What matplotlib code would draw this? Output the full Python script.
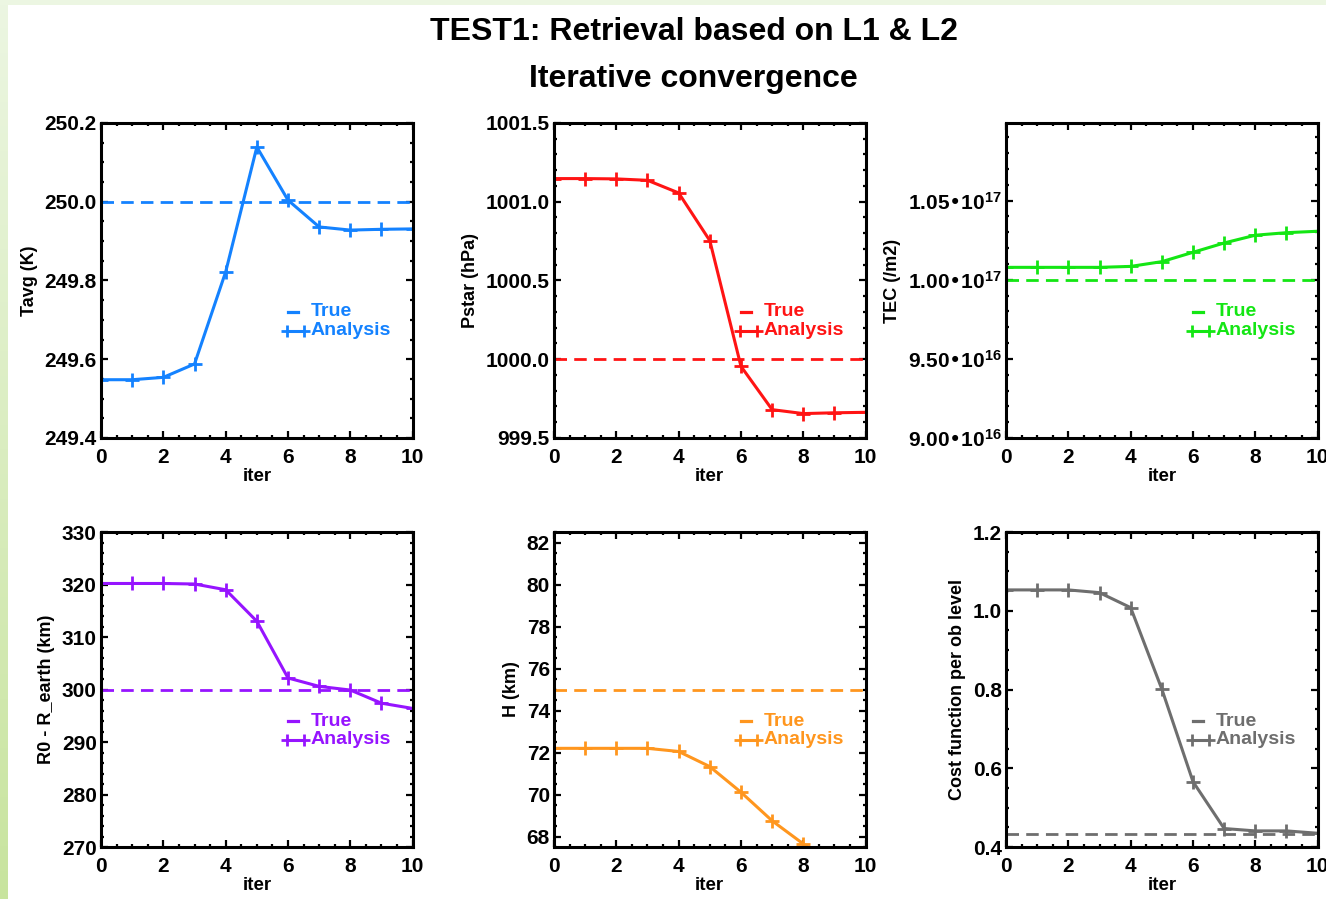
import numpy as np
import matplotlib.pyplot as plt
from matplotlib.ticker import MultipleLocator, AutoMinorLocator, FuncFormatter, FixedLocator

plt.rcParams['font.family'] = ['Liberation Sans', 'DejaVu Sans']
plt.rcParams['font.weight'] = 'bold'
plt.rcParams['axes.labelweight'] = 'bold'
plt.rcParams['mathtext.default'] = 'regular'

# Iteration index
iters = np.arange(11)

# Analysis values per iteration
tavg = [249.548, 249.548, 249.554, 249.588, 249.822, 250.139, 250.004, 249.936, 249.928, 249.930, 249.931]
pstar = [1001.147, 1001.147, 1001.145, 1001.136, 1001.056, 1000.753, 999.955, 999.680, 999.655, 999.660, 999.663]
tec = [1.0078e17, 1.0078e17, 1.0078e17, 1.0078e17, 1.0084e17, 1.0114e17, 1.0173e17, 1.0232e17, 1.0281e17, 1.0297e17, 1.0306e17]
r0 = [320.2, 320.2, 320.2, 320.1, 319.0, 313.0, 302.2, 300.6, 299.9, 297.4, 296.4]
h_km = [72.2, 72.2, 72.2, 72.2, 72.05, 71.33, 70.11, 68.75, 67.65, 66.5, 65.6]
cost = [1.053, 1.053, 1.053, 1.046, 1.008, 0.801, 0.566, 0.447, 0.441, 0.441, 0.435]

# True values
tavg_true = 250.0
pstar_true = 1000.0
tec_true = 1.0e17
r0_true = 300.0
h_true = 75.0
cost_true = 0.434

ylabels = ['Tavg (K)', 'Pstar (hPa)', 'TEC (/m2)', 'R0 - R_earth (km)', 'H (km)', 'Cost function per ob level']
colors = ['#1482ff', '#ff1414', '#14e614', '#9614ff', '#ff961e', '#6e6e6e']


def sci_fmt(v, pos):
    e = int(np.floor(np.log10(v)))
    m = v / 10.0 ** e
    return '%.2f\u202210$^{%d}$' % (m, e)


fig = plt.figure(figsize=(13.26, 8.99), dpi=100)

# Light green frame on the left and top edge
bg = fig.add_axes([0, 0, 1, 1], zorder=-10)
bg.set_xlim(0, 1326)
bg.set_ylim(899, 0)
bg.axis('off')
grad = np.linspace(0, 1, 256)[:, None]
top_c = np.array([236, 246, 226]) / 255.0
bot_c = np.array([200, 228, 158]) / 255.0
strip = top_c[None, None, :] * (1 - grad[:, :, None]) + bot_c[None, None, :] * grad[:, :, None]
bg.imshow(strip, extent=(0, 8, 899, 0), aspect='auto')
bg.add_patch(plt.Rectangle((0, 0), 1326, 5, color=tuple(top_c), lw=0))

fig.text(0.523, 0.964, 'TEST1: Retrieval based on L1 & L2', ha='center', va='center', fontsize=23)
fig.text(0.523, 0.912, 'Iterative convergence', ha='center', va='center', fontsize=23)

lefts = [0.0762, 0.4178, 0.7587]
bottoms = [0.5128, 0.0578]
w, h = 0.2350, 0.3504

series = [tavg, pstar, tec, r0, h_km, cost]
trues = [tavg_true, pstar_true, tec_true, r0_true, h_true, cost_true]
ylims = [(249.4, 250.2), (999.5, 1001.5), (9.0e16, 1.099e17), (270, 330), (67.5, 82.5), (0.4, 1.2)]
majors = [0.2, 0.5, None, 10, 2, 0.2]
minors = [4, 5, 5, 5, 4, 4]
fmts = ['%.1f', '%.1f', None, '%d', '%d', '%.1f']

for i in range(6):
    ax = fig.add_axes([lefts[i % 3], bottoms[i // 3], w, h])
    c = colors[i]

    # true value (dashed) and analysis (line + plus markers)
    ax.axhline(trues[i], color=c, lw=2, dashes=(4.5, 2.6))
    ax.plot(iters, series[i], color=c, lw=2.2, marker='+', ms=10, mew=2)

    ax.set_xlim(0, 10)
    ax.set_ylim(*ylims[i])
    ax.xaxis.set_major_locator(MultipleLocator(2))
    ax.xaxis.set_minor_locator(AutoMinorLocator(4))
    if i == 2:
        ax.yaxis.set_major_locator(FixedLocator([9.0e16, 9.5e16, 1.0e17, 1.05e17]))
        ax.yaxis.set_minor_locator(MultipleLocator(1.0e15))
        ax.yaxis.set_major_formatter(FuncFormatter(sci_fmt))
    else:
        ax.yaxis.set_major_locator(MultipleLocator(majors[i]))
        ax.yaxis.set_minor_locator(AutoMinorLocator(minors[i]))
        ax.yaxis.set_major_formatter(FuncFormatter(lambda v, p, f=fmts[i]: f % v))

    ax.tick_params(which='both', direction='in', top=True, right=True, width=1.6, labelsize=15)
    ax.tick_params(which='major', length=5)
    ax.tick_params(which='minor', length=2.5)
    ax.tick_params(axis='x', pad=7)
    ax.tick_params(axis='y', pad=3)
    for s in ax.spines.values():
        s.set_linewidth(2.2)

    ax.set_xlabel('iter', fontsize=13.5, labelpad=1)
    ax.set_ylabel(ylabels[i], fontsize=13, labelpad=5)

    # IDL style legend
    ax.plot([0.60, 0.632], [0.40, 0.40], transform=ax.transAxes, color=c, lw=2.3)
    ax.text(0.672, 0.40, 'True', transform=ax.transAxes, color=c, fontsize=14, va='center')
    ax.plot([0.598, 0.652], [0.34, 0.34], transform=ax.transAxes, color=c, lw=2.2,
            marker='+', ms=9, mew=2)
    ax.text(0.672, 0.34, 'Analysis', transform=ax.transAxes, color=c, fontsize=14, va='center')

fig.savefig('out.png', dpi=100)
